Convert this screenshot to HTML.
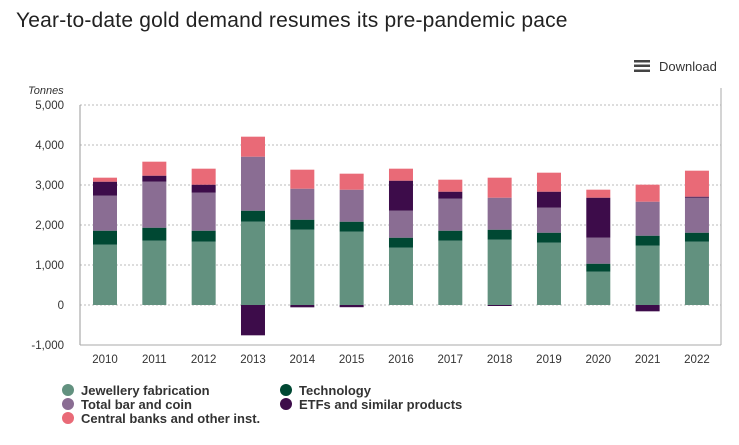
<!DOCTYPE html>
<html><head><meta charset="utf-8"><style>
body{margin:0;width:739px;height:445px;background:#fff;font-family:"Liberation Sans",sans-serif;overflow:hidden;position:relative}
.t{position:absolute;left:16px;top:9px;font-size:21px;color:#222;letter-spacing:0.2px}
.dl{position:absolute;left:634px;top:59px;font-size:13px;color:#333}
.hb{display:inline-block;width:16px;height:12px;vertical-align:-1px;margin-right:9px;background:linear-gradient(#444 0,#444 2.5px,transparent 2.5px,transparent 4.75px,#444 4.75px,#444 7.25px,transparent 7.25px,transparent 9.5px,#444 9.5px,#444 12px)}
svg{position:absolute;left:0;top:0}
</style></head><body>
<div class="t">Year-to-date gold demand resumes its pre-pandemic pace</div>
<div class="dl"><span class="hb"></span>Download</div>
<svg id="c" width="739" height="445"></svg>
<script>
const years=["2010","2011","2012","2013","2014","2015","2016","2017","2018","2019","2020","2021","2022"];
const jewellery=[1508,1608,1583,2083,1883,1833,1433,1608,1633,1558,833,1483,1583];
const technology=[350,325,275,275,250,250,250,250,250,250,200,250,225];
const barCoin=[875,1150,950,1350,775,800,675,800,800,625,650,850,875];
const etfs=[350,150,200,-758,-58,-55,750,175,-25,400,1000,-158,25];
const centralBanks=[100,350,400,500,475,400,300,300,500,475,200,425,650];
const yTicks=[5000,4000,3000,2000,1000,0,-1000];
const tickLabels=["5,000","4,000","3,000","2,000","1,000","0","-1,000"];
const series=[["Jewellery fabrication",jewellery,"#62917f"],["Technology",technology,"#004833"],["Total bar and coin",barCoin,"#8a6d93"],["ETFs and similar products",etfs,"#3d0c4a"],["Central banks and other inst.",centralBanks,"#e96a77"]];
const NS="http://www.w3.org/2000/svg",svg=document.getElementById('c');
const y=v=>305-v*0.04;
const x=i=>105+i*49.33;
function mk(t,a,p){const e=document.createElementNS(NS,t);for(const k in a)e.setAttribute(k,a[k]);(p||svg).appendChild(e);return e;}
yTicks.forEach((v,i)=>{
 if(v>-1000){const g=mk('line',{x1:80,x2:721,y1:y(v),y2:y(v),stroke:'#bbb','stroke-dasharray':'2,2'});
 
 }
 const t=mk('text',{x:64,y:y(v)+4,'text-anchor':'end','font-size':11.5,fill:'#333'});t.textContent=tickLabels[i];
 
 
});
const yt=mk('text',{x:28,y:94,'font-size':11,'font-style':'italic',fill:'#333'});yt.textContent='Tonnes';


years.forEach((yr,i)=>{
 let pos=0,neg=0;
 [jewellery,technology,barCoin,etfs,centralBanks].forEach((arr,s)=>{
  const v=arr[i];let y0,y1;
  if(v>=0){y0=pos;y1=pos+v;pos=y1;}else{y0=neg;y1=neg+v;neg=y1;}
  const r=mk('rect',{x:x(i)-12,width:24,y:Math.min(y(y0),y(y1)),height:Math.abs(y(y0)-y(y1)),fill:series.find(z=>z[1]===arr)[2]});
  
  
 });
 const t=mk('text',{x:x(i),y:363,'text-anchor':'middle','font-size':11.5,fill:'#333'});t.textContent=yr;
 
 
});
mk('line',{x1:80,x2:80,y1:105,y2:345,stroke:'#999'});
mk('line',{x1:80,x2:721,y1:345,y2:345,stroke:'#aaa'});
mk('line',{x1:721,x2:721,y1:88,y2:345,stroke:'#aaa'});
const leg=[[0,68,390],[2,68,404],[4,68,418],[1,286,390],[3,286,404]];
leg.forEach(([s,lx,ly])=>{
 const c=mk('circle',{cx:lx,cy:ly,r:6,fill:series[s][2]});
 
 
 const t=mk('text',{x:lx+13,y:ly+5,'font-size':13,'font-weight':'bold',fill:'#333'});t.textContent=series[s][0];
 
 
});
</script>
</body></html>
